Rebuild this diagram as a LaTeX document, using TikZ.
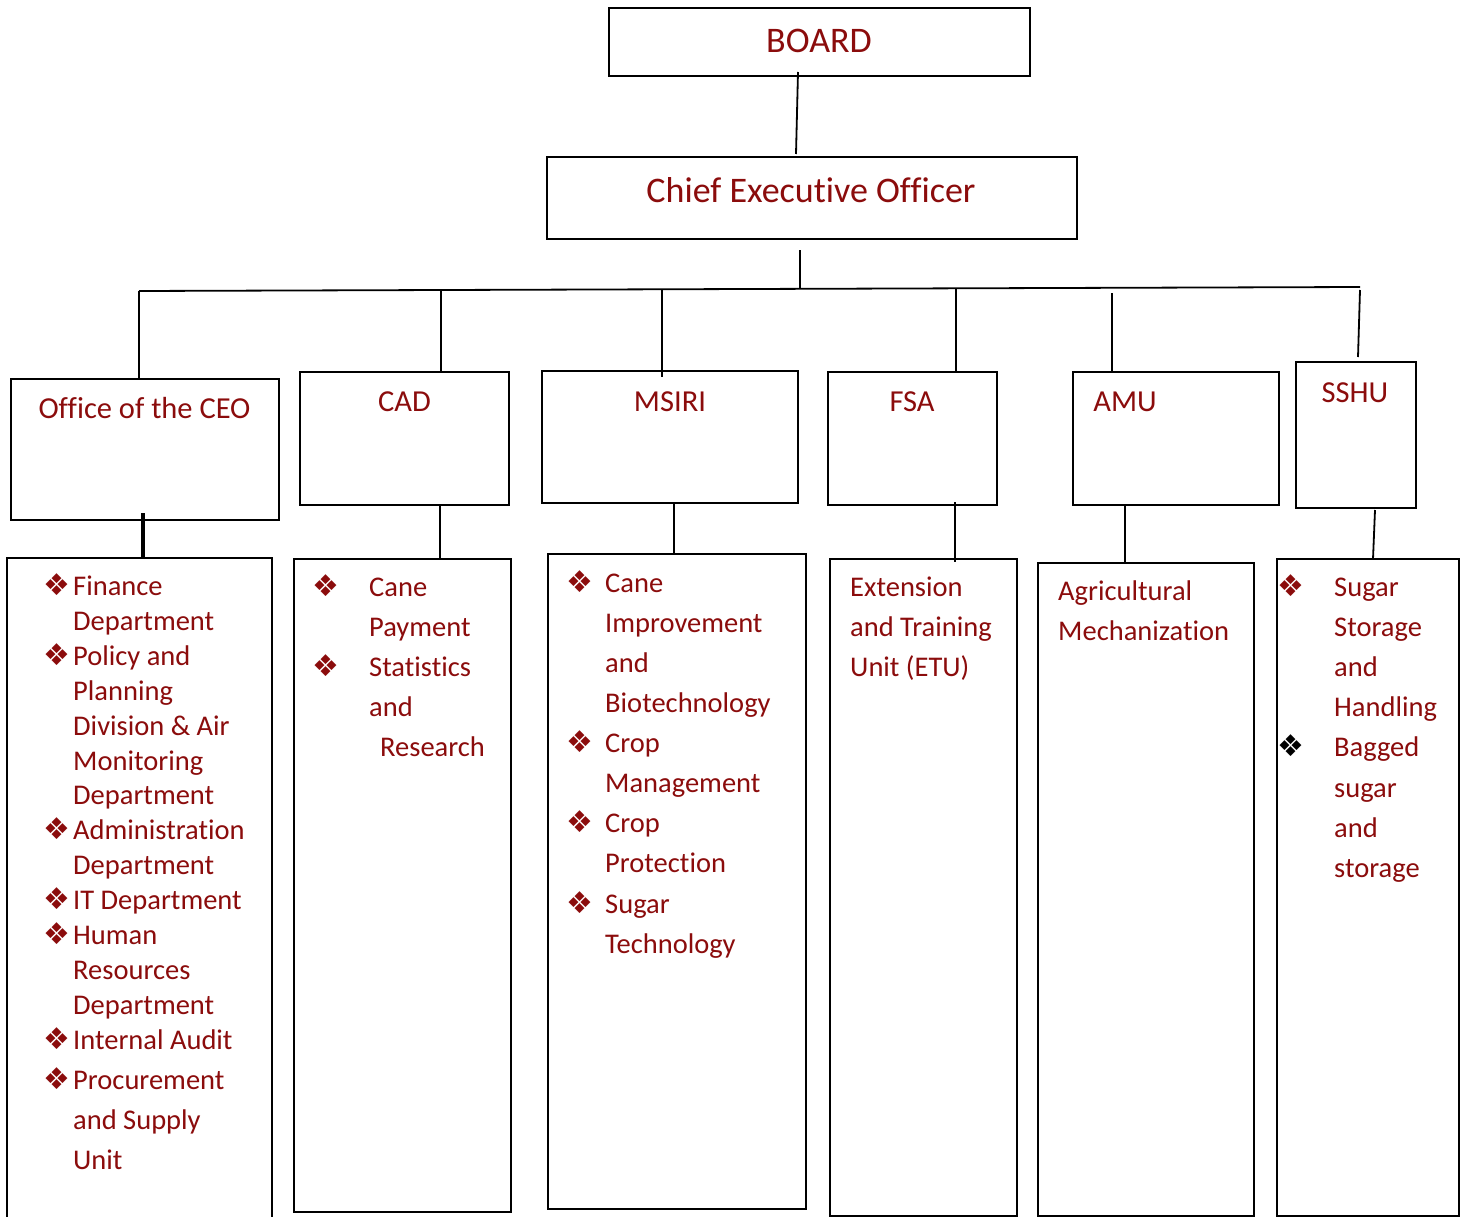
\documentclass[tikz,border=0pt]{standalone}
\usepackage{fontspec}
\setmainfont{Carlito}[Ligatures=NoCommon]
\newfontfamily\symfont{DejaVu Sans}
\usetikzlibrary{calc}
\definecolor{deptred}{RGB}{139,12,12}
\newcommand{\bulglyph}{❖}
\begin{document}
\begin{tikzpicture}[x=1pt,y=-1pt,
  box/.style={draw=black, line width=2pt, inner sep=0pt, outer sep=0pt, anchor=north west},
  link/.style={draw=black, line width=1.8pt},
  headline/.style={text=deptred, font=\fontsize{36}{43}\selectfont, inner sep=0pt, anchor=base},
  unitname/.style={text=deptred, font=\fontsize{30.5}{37}\selectfont, inner sep=0pt, anchor=base},
  item/.style={text=deptred, font=\fontsize{28.5}{34}\selectfont, inner sep=0pt, anchor=base west},
  bul/.style={text=deptred, font=\symfont\fontsize{30}{34}\selectfont, inner sep=0pt, anchor=center},
]
\useasboundingbox (0,0) rectangle (1467,1217);
\fill[white] (0,0) rectangle (1467,1217);

% top levels
\node[box, minimum width=421, minimum height=68] (board) at (609,8) {};
\node[headline] (boardT) at (819,53) {BOARD};
\node[box, minimum width=530, minimum height=82] (ceo) at (547,157) {};
\node[headline] (ceoT) at (811,203) {Chief Executive Officer};

% divisions
\node[box, minimum width=268, minimum height=141] (office) at (11,379) {};
\node[box, minimum width=209, minimum height=133] (cad) at (300,372) {};
\node[box, minimum width=256, minimum height=132] (msiri) at (542,371) {};
\node[box, minimum width=169, minimum height=133] (fsa) at (828,372) {};
\node[box, minimum width=206, minimum height=133] (amu) at (1073,372) {};
\node[box, minimum width=120, minimum height=146] (sshu) at (1296,362) {};

\node[unitname] (officeT) at (144.5,418) {Office of the CEO};
\node[unitname] (cadT) at (404.5,411) {CAD};
\node[unitname] (msiriT) at (670,411) {MSIRI};
\node[unitname] (fsaT) at (912,411) {FSA};
\node[unitname] (amuT) at (1125,411) {AMU};
\node[unitname] (sshuT) at (1355,402) {SSHU};

% department lists
\node[box, minimum width=265, minimum height=670] (offL) at (7,558) {};
\node[box, minimum width=217, minimum height=653] (cadL) at (294,559) {};
\node[box, minimum width=258, minimum height=655] (msiL) at (548,554) {};
\node[box, minimum width=187, minimum height=657] (fsaL) at (830,559) {};
\node[box, minimum width=216, minimum height=653] (amuL) at (1038,563) {};
\node[box, minimum width=182, minimum height=657] (sshL) at (1277,559) {};

% connectors
\draw[link] ($(board.south)+(-21.5,-4)$) -- ($(ceo.north)+(-16,-3)$);
\coordinate (busL) at (139,291);
\coordinate (busR) at (1360,287);
\coordinate (busC) at (800,289);
\draw[link] ($(ceo.south)+(-12,11)$) -- (busC);
\draw[link] (busL) -- (busR);
\draw[link] (busL) -- (office.north -| busL);
\coordinate (jC) at (441,291);
\draw[link] (jC) -- (cad.north -| jC);
\coordinate (jM) at (662,290);
\draw[link] (jM) -- ($(msiri.north -| jM)+(0,6)$);
\coordinate (jF) at (956,289);
\draw[link] (jF) -- (fsa.north -| jF);
\coordinate (jA) at (1112,293);
\draw[link] (jA) -- (amu.north -| jA);
\coordinate (jS) at (1360,290);
\draw[link] (jS) -- ($(sshu.north)+(2,-5)$);

\coordinate (kO) at (143,513);
\draw[link, line width=3.5pt] (kO) -- (offL.north -| kO);
\coordinate (kC) at (440,505);
\draw[link] (kC) -- (cadL.north -| kC);
\coordinate (kM) at (674,503);
\draw[link] (kM) -- (msiL.north -| kM);
\coordinate (kF) at (955,502);
\draw[link] (kF) -- ($(fsaL.north -| kF)+(0,3)$);
\coordinate (kA) at (1125,505);
\draw[link] (kA) -- (amuL.north -| kA);
\draw[link] ($(sshu.south)+(19,2)$) -- ($(sshL.north)+(5,0)$);

% Office of the CEO
\foreach \yy/\t [count=\i] in {586/Finance, 621/Department, 656/Policy and, 691/Planning,
  726/Division \& Air, 761/Monitoring, 795/Department, 830/Administration, 865/Department,
  900/IT Department, 935/Human, 970/Resources, 1005/Department, 1040/Internal Audit,
  1080/Procurement, 1120/and Supply, 1160/Unit}
  \node[item] (offT\i) at (73,\yy+9) {\t};
\foreach \yy [count=\i] in {586,656,830,900,935,1040,1080}
  \node[bul] (offB\i) at (57,\yy-1) {\bulglyph};

% CAD
\foreach \yy/\t [count=\i] in {587/Cane, 627/Payment, 667/Statistics, 707/and}
  \node[item] (cadI\i) at (369,\yy+9) {\t};
\node[item] (cadI5) at (380,756) {Research};
\foreach \yy [count=\i] in {587,667}
  \node[bul] (cadB\i) at (326,\yy-1) {\bulglyph};

% MSIRI
\foreach \yy/\t [count=\i] in {583/Cane, 623/Improvement, 663/and, 703/Biotechnology,
  743/Crop, 783/Management, 823/Crop, 863/Protection, 904/Sugar, 944/Technology}
  \node[item] (msiI\i) at (605,\yy+9) {\t};
\foreach \yy [count=\i] in {583,743,823,904}
  \node[bul] (msiB\i) at (580,\yy-1) {\bulglyph};

% FSA
\foreach \yy/\t [count=\i] in {587/Extension, 627/and Training, 667/Unit (ETU)}
  \node[item] (fsaI\i) at (850,\yy+9) {\t};

% AMU
\foreach \yy/\t [count=\i] in {591/Agricultural, 631/Mechanization}
  \node[item] (amuI\i) at (1058,\yy+9) {\t};

% SSHU
\foreach \yy/\t [count=\i] in {587/Sugar, 627/Storage, 667/and, 707/Handling,
  747/Bagged, 788/sugar, 828/and, 868/storage}
  \node[item] (sshI\i) at (1334,\yy+9) {\t};
\node[bul] (sshB1) at (1291,586) {\bulglyph};
\node[bul, text=black] (sshB2) at (1291,746) {\bulglyph};
\end{tikzpicture}
\end{document}
